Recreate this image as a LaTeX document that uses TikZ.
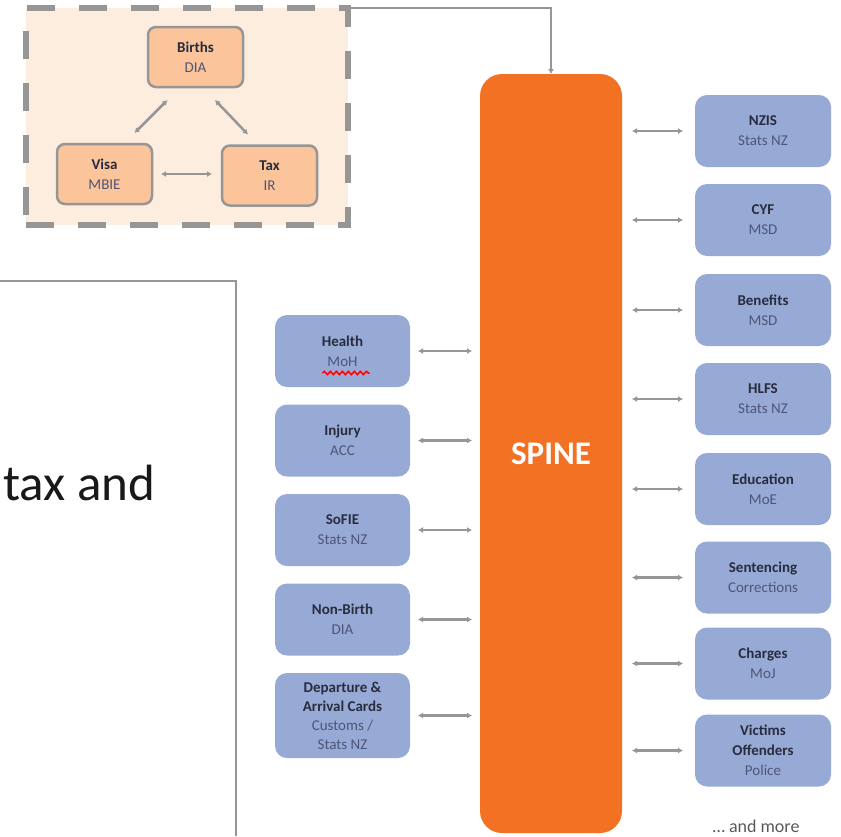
\documentclass[tikz,border=0pt]{standalone}
\usepackage{fontspec}
\setmainfont{Carlito}
\usetikzlibrary{arrows.meta}
\usetikzlibrary{decorations.pathmorphing}

\definecolor{spineorange}{RGB}{242,113,35}
\definecolor{boxblue}{RGB}{151,170,214}
\definecolor{diapeach}{RGB}{251,196,154}
\definecolor{groupfill}{RGB}{253,237,223}
\definecolor{linegray}{RGB}{150,150,150}
\definecolor{titletext}{RGB}{40,44,62}
\definecolor{subtext}{RGB}{78,86,120}

\begin{document}
\begin{tikzpicture}[x=1pt, y=-1pt, >={Latex[length=5pt,width=6pt]},
  srcbox/.style={rounded corners=12pt, fill=boxblue, minimum width=136pt, minimum height=72pt,
    align=center, inner sep=0pt, outer sep=0pt, text=titletext, font=\fontsize{15}{20}\selectfont},
  diabox/.style={rounded corners=8pt, fill=diapeach, draw=linegray, line width=2.5pt,
    minimum width=95pt, minimum height=60pt, align=center, inner sep=0pt, outer sep=0pt,
    text=titletext, font=\fontsize{15}{20}\selectfont},
  link/.style={linegray, line width=2.5pt, <->},
  feed/.style={linegray, line width=2.5pt, ->}]
  \useasboundingbox (0,0) rectangle (841,836);

  % text frame on the left
  \draw[linegray, line width=1.2pt] (0,281) -| (236,836);
  \node[anchor=base west, inner sep=0pt, font=\fontsize{51}{60}\selectfont, text=black!90] (taxand) at (3,500) {tax and};

  % group of births, visa and tax
  \node[fill=groupfill, draw=linegray, line width=6pt, dash pattern=on 28pt off 24pt,
    minimum width=322pt, minimum height=217pt, outer sep=0pt] (group) at (187,116.5) {};
  \node[diabox] (births) at (195.5,57) {\textbf{Births}\\{\color{subtext}DIA}};
  \node[diabox] (visa) at (104.5,174) {\textbf{Visa}\\{\color{subtext}MBIE}};
  \node[diabox] (tax) at (269.5,175.5) {\textbf{Tax}\\{\color{subtext}IR}};

  \draw[link] ([shift={(-28,13)}]births.south) -- ([shift={(30,-11)}]visa.north);
  \draw[link] ([shift={(19.5,13)}]births.south) -- ([shift={(-21.5,-11)}]tax.north);
  \draw[link, shorten <=9pt, shorten >=10pt] (visa.east) -- (visa.east -| tax.west);

  % spine
  \node[rounded corners=22pt, fill=spineorange, minimum width=142pt, minimum height=759pt,
    outer sep=0pt, text=white, font=\bfseries\fontsize{33}{40}\selectfont] (spine) at (551,453.5) {SPINE};
  \draw[feed] (group.north east) -| (spine.north);

  % sources on the right
  \node[srcbox] (nzis) at (763,131) {\textbf{NZIS}\\{\color{subtext}Stats NZ}};
  \node[srcbox] (cyf) at (763,220) {\textbf{CYF}\\{\color{subtext}MSD}};
  \node[srcbox] (benefits) at (763,310) {\textbf{Benefits}\\{\color{subtext}MSD}};
  \node[srcbox] (hlfs) at (763,399) {\textbf{HLFS}\\{\color{subtext}Stats NZ}};
  \node[srcbox] (education) at (763,489) {\textbf{Education}\\{\color{subtext}MoE}};
  \node[srcbox] (sentencing) at (763,577.5) {\textbf{Sentencing}\\{\color{subtext}Corrections}};
  \node[srcbox] (charges) at (763,663.5) {\textbf{Charges}\\{\color{subtext}MoJ}};
  \node[srcbox] (victims) at (763,750.5) {\textbf{Victims}\\\textbf{Offenders}\\{\color{subtext}Police}};
  \node[anchor=base, inner sep=0pt, text=black!65, font=\fontsize{18}{22}\selectfont] (more) at (756,832) {\ldots{} and more};

  \draw[link, shorten <=10pt, shorten >=12pt] (nzis.west -| spine.east) -- (nzis.west);
  \draw[link, shorten <=10pt, shorten >=12pt] (cyf.west -| spine.east) -- (cyf.west);
  \draw[link, shorten <=10pt, shorten >=12pt] (benefits.west -| spine.east) -- (benefits.west);
  \draw[link, shorten <=10pt, shorten >=12pt] (hlfs.west -| spine.east) -- (hlfs.west);
  \draw[link, shorten <=10pt, shorten >=12pt] (education.west -| spine.east) -- (education.west);
  \draw[link, shorten <=10pt, shorten >=12pt] (sentencing.west -| spine.east) -- (sentencing.west);
  \draw[link, shorten <=10pt, shorten >=12pt] (charges.west -| spine.east) -- (charges.west);
  \draw[link, shorten <=10pt, shorten >=12pt] (victims.west -| spine.east) -- (victims.west);

  % sources on the left
  \node[srcbox, minimum width=135pt] (health) at (342.5,351) {\textbf{Health}\\{\color{subtext}MoH}};
  \node[srcbox, minimum width=135pt] (injury) at (342.5,440.5) {\textbf{Injury}\\{\color{subtext}ACC}};
  \node[srcbox, minimum width=135pt] (sofie) at (342.5,530) {\textbf{SoFIE}\\{\color{subtext}Stats NZ}};
  \node[srcbox, minimum width=135pt] (nonbirth) at (342.5,619.5) {\textbf{Non-Birth}\\{\color{subtext}DIA}};
  \node[srcbox, minimum width=135pt, minimum height=85pt, font=\fontsize{15}{19}\selectfont] (departure) at (342.5,715.5)
    {\textbf{Departure \&}\\\textbf{Arrival Cards}\\{\color{subtext}Customs /}\\{\color{subtext}Stats NZ}};
  \draw[red, line width=1.5pt, decorate, decoration={snake, amplitude=1.6pt, segment length=6pt}]
    ([shift={(-20,-14)}]health.south) -- ([shift={(27,-14)}]health.south);

  \draw[link, shorten <=8pt, shorten >=8pt] (health.east) -- (health.east -| spine.west);
  \draw[link, shorten <=8pt, shorten >=8pt] (injury.east) -- (injury.east -| spine.west);
  \draw[link, shorten <=8pt, shorten >=8pt] (sofie.east) -- (sofie.east -| spine.west);
  \draw[link, shorten <=8pt, shorten >=8pt] (nonbirth.east) -- (nonbirth.east -| spine.west);
  \draw[link, shorten <=8pt, shorten >=8pt] (departure.east) -- (departure.east -| spine.west);

\end{tikzpicture}
\end{document}
